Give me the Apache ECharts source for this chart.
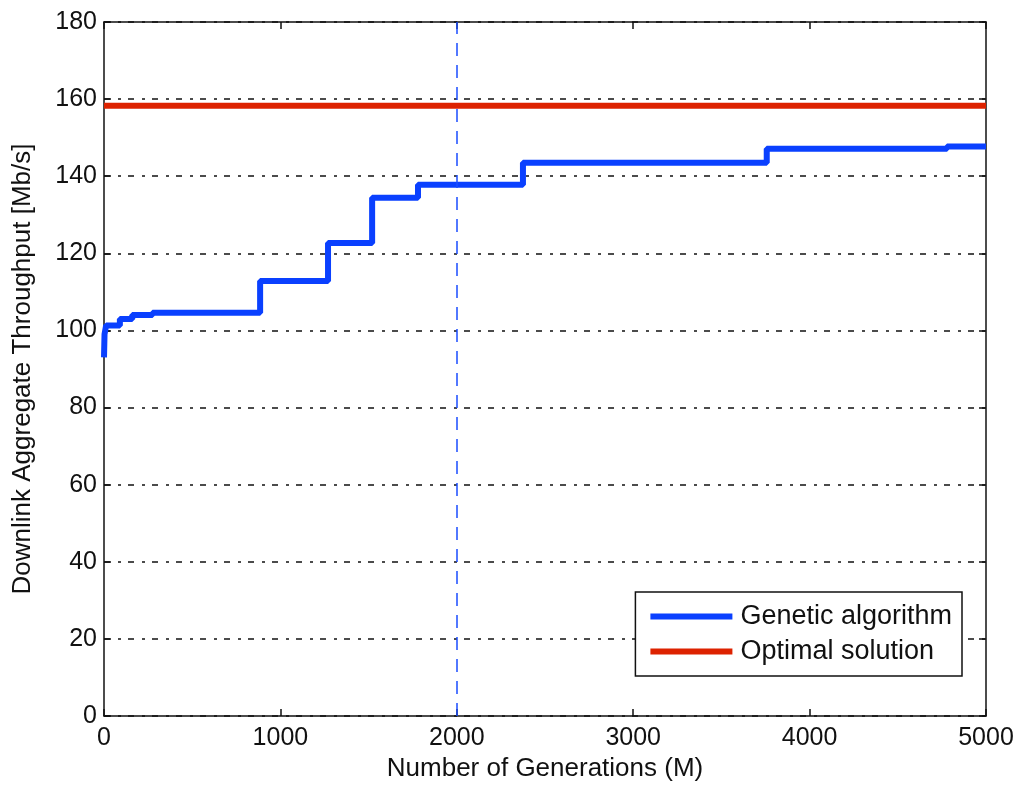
<!DOCTYPE html>
<html>
<head>
<meta charset="utf-8">
<script src="https://cdn.jsdelivr.net/npm/echarts@6/dist/echarts.min.js"></script>
<style>
  html, body { margin: 0; padding: 0; background: #fff; }
  #main { width: 1022px; height: 789px; }
</style>
</head>
<body>
<div id="main"></div>
<script>
// step points of the GA curve: [generation, throughput]
var gaGen = [0, 3, 12, 90, 160, 275, 885, 1270, 1520, 1780, 2375, 3757, 4779, 5000];
var gaVal = [93, 99, 101.3, 103, 104, 104.6, 112.8, 122.7, 134.4, 137.8, 143.5, 147.1, 147.7, 147.7];
// optimal solution (flat)
var optGen = [0, 5000];
var optVal = [158.3, 158.3];
var markGen = 2000; // vertical dashed line
var xTicks = [0, 1000, 2000, 3000, 4000, 5000];
var yTicks = [0, 20, 40, 60, 80, 100, 120, 140, 160, 180];

var font = 'Liberation Sans, Arial, Helvetica, sans-serif';
var Chart = echarts.init(document.getElementById('main'));

var gaData = [];
for (var i = 0; i < gaGen.length; i++) {
  gaData.push([gaGen[i], gaVal[i]]);
}
var optData = [];
for (var j = 0; j < optGen.length; j++) {
  optData.push([optGen[j], optVal[j]]);
}

var axisCommon = {
  type: 'value',
  axisLine: { show: true, onZero: false, lineStyle: { color: '#111', width: 1.5 } },
  axisTick: { show: true, inside: true, length: 7, lineStyle: { color: '#111', width: 1.5 } },
  splitLine: { show: false }
};

var option = {
  animation: false,
  backgroundColor: '#fff',
  grid: { left: 104, right: 36, top: 22, bottom: 73, containLabel: false },
  legend: {
    orient: 'vertical',
    right: 60,
    bottom: 113,
    itemWidth: 82,
    itemHeight: 6,
    itemGap: 8,
    icon: 'rect',
    padding: [11, 10, 11, 15],
    borderColor: '#111',
    borderWidth: 1.5,
    backgroundColor: '#fff',
    textStyle: { fontFamily: font, fontSize: 27, color: '#111', padding: [0, 0, 0, 3] },
    data: ['Genetic algorithm', 'Optimal solution']
  },
  xAxis: [
    Object.assign({}, axisCommon, {
      min: 0, max: 5000, interval: 1000,
      position: 'bottom',
      name: 'Number of Generations (M)',
      nameLocation: 'middle',
      nameGap: 40,
      nameTextStyle: { fontFamily: font, fontSize: 26, color: '#111' },
      axisLabel: {
        fontFamily: font, fontSize: 25, color: '#111', margin: 10,
        formatter: function (v) { return xTicks.indexOf(v) >= 0 ? String(v) : ''; }
      }
    }),
    Object.assign({}, axisCommon, {
      min: 0, max: 5000, interval: 1000,
      position: 'top',
      axisLabel: { show: false }
    })
  ],
  yAxis: [
    Object.assign({}, axisCommon, {
      min: 0, max: 180, interval: 20,
      position: 'left',
      name: 'Downlink Aggregate Throughput [Mb/s]',
      nameLocation: 'middle',
      nameGap: 68,
      nameTextStyle: { fontFamily: font, fontSize: 26, color: '#111' },
      axisLabel: {
        fontFamily: font, fontSize: 25, color: '#111', margin: 7,
        formatter: function (v) { return yTicks.indexOf(v) >= 0 ? String(v) : ''; }
      },
      splitLine: {
        show: true,
        lineStyle: { color: '#111', width: 1.5, type: [6, 8, 3, 7] }
      }
    }),
    Object.assign({}, axisCommon, {
      min: 0, max: 180, interval: 20,
      position: 'right',
      axisLabel: { show: false }
    })
  ],
  series: [
    {
      name: 'Optimal solution',
      type: 'line',
      data: optData,
      symbol: 'none',
      color: '#dd2200',
      lineStyle: { color: '#dd2200', width: 6 },
      z: 3
    },
    {
      name: 'Genetic algorithm',
      type: 'line',
      step: 'end',
      data: gaData,
      symbol: 'none',
      color: '#0a40ff',
      lineStyle: { color: '#0a40ff', width: 6 },
      z: 4,
      markLine: {
        silent: true,
        symbol: 'none',
        label: { show: false },
        lineStyle: { color: '#1a4cff', width: 1.5, type: [13, 9] },
        data: [{ xAxis: markGen }]
      }
    }
  ]
};
Chart.setOption(option);
</script>
</body>
</html>
